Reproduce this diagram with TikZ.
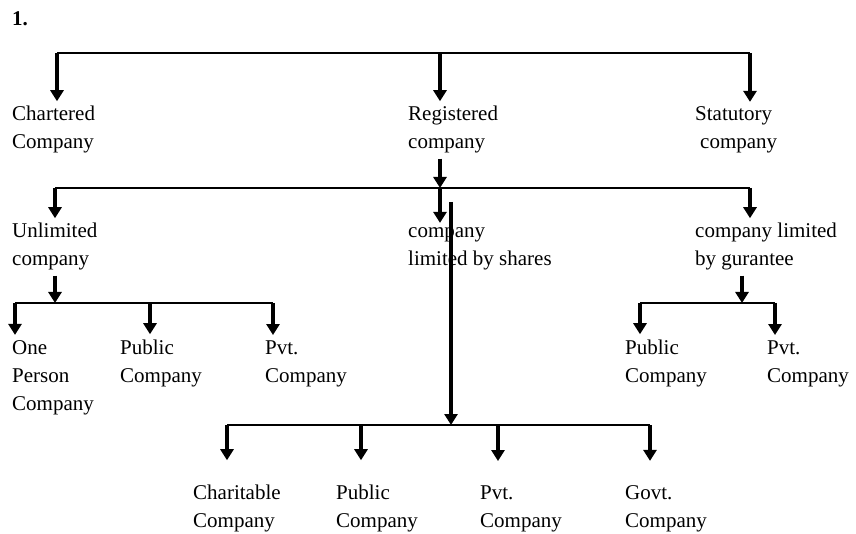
\documentclass[tikz,border=0pt]{standalone}
\usepackage{fontspec}
\setmainfont{Liberation Serif}
\usetikzlibrary{arrows.meta}

\begin{document}
\begin{tikzpicture}[x=1pt, y=-1pt,
    every node/.style={font=\fontsize{21}{28}\selectfont, align=left, anchor=base west, inner xsep=0pt, inner ysep=5pt},
    bar/.style={line width=1.8pt},
    drop/.style={line width=3.4pt, -{Triangle[length=11pt,width=13pt]}}]
				\useasboundingbox (0,0) rectangle (856,534);
				
				\node[font=\fontsize{21}{28}\selectfont\bfseries] (num) at (12,26) {1.};
				
				% primo livello (base = ultima riga)
				\node (chart) at (12,149) {Chartered\\Company};
				\node (reg) at (408,149) {Registered\\company};
				\node (stat) at (695,149) {Statutory\\\hspace*{5pt}company};
				
				% secondo livello
				\node (unlim) at (12,266) {Unlimited\\company};
				\node (shares) at (408,266) {company\\limited by shares};
				\node (guar) at (695,266) {company limited\\by gurantee};
				
				% terzo livello
				\node (one) at (12,410) {One\\Person\\Company};
				\node (pub1) at (120,382) {Public\\Company};
				\node (pvt1) at (265,382) {Pvt.\\Company};
				\node (pub2) at (625,382) {Public\\Company};
				\node (pvt2) at (767,382) {Pvt.\\Company};
				
				\node (charit) at (193,527) {Charitable\\Company};
				\node (pub3) at (336,527) {Public\\Company};
				\node (pvt3) at (480,527) {Pvt.\\Company};
				\node (govt) at (625,527) {Govt.\\Company};
				
				\coordinate (a1) at (57,53);
				\coordinate (a2) at (440,53);
				\coordinate (a3) at (750,53);
				\coordinate (b1) at (55,188);
				\coordinate (b2) at (440,188);
				\coordinate (b3) at (750,188);
				\coordinate (d1) at (15,303);
				\coordinate (d2) at (150,303);
				\coordinate (d3) at (273,303);
				\coordinate (e1) at (640,303);
				\coordinate (em) at (742,303);
				\coordinate (e2) at (775,303);
				\coordinate (sh) at (451,202);
				\coordinate (c1) at (227,425);
				\coordinate (c2) at (361,425);
				\coordinate (cm) at (451,425);
				\coordinate (c3) at (498,425);
				\coordinate (c4) at (650,425);
				
				\draw[bar] (a1) -- (a3);
				\draw[drop] (a1) -- (a1 |- chart.north);
				\draw[drop] (a2) -- (a2 |- reg.north);
				\draw[drop] (a3) -- (a3 |- stat.north);
				
				\draw[drop] (a2 |- reg.south) -- (b2);
				\draw[bar] (b1) -- (b3);
				\draw[drop] (b1) -- (b1 |- unlim.north);
				\draw[drop] (b2) -- (b2 |- shares.north);
				\draw[drop] (b3) -- (b3 |- guar.north);
				
				\draw[drop] (b1 |- unlim.south) -- (b1 |- d1);
				\draw[bar] (d1) -- (d3);
				\draw[drop] (d1) -- (d1 |- one.north);
				\draw[drop] (d2) -- (d2 |- pub1.north);
				\draw[drop] (d3) -- (d3 |- pvt1.north);
				
				\draw[drop] (em |- guar.south) -- (em);
				\draw[bar] (e1) -- (e2);
				\draw[drop] (e1) -- (e1 |- pub2.north);
				\draw[drop] (e2) -- (e2 |- pvt2.north);
				
				\draw[drop] (sh) -- (cm);
				\draw[bar] (c1) -- (c4);
				\draw[drop, shorten >=19pt] (c1) -- (c1 |- charit.north);
				\draw[drop, shorten >=19pt] (c2) -- (c2 |- pub3.north);
				\draw[drop, shorten >=19pt] (c3) -- (c3 |- pvt3.north);
				\draw[drop, shorten >=19pt] (c4) -- (c4 |- govt.north);
			\end{tikzpicture}
\end{document}
